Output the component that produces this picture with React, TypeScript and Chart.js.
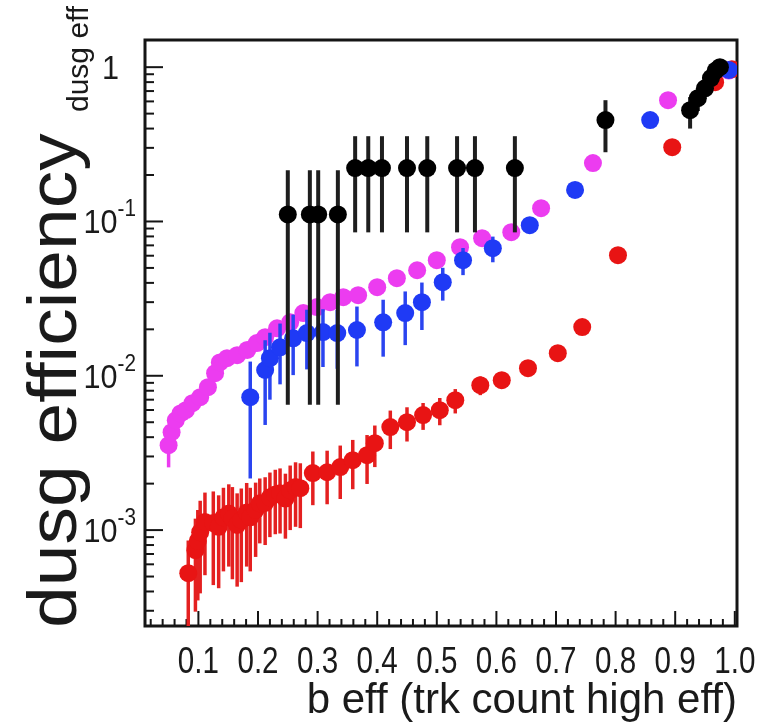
import React, { useEffect, useRef } from "react";
import { Chart, registerables } from "chart.js";

Chart.register(...registerables);

// axis ranges
const xMin = 0.0104;
const xMax = 1.0037;
const yMin = 2.39e-4;
const yMax = 1.5;

// tick labels
const xTickLabels = ["0.1", "0.2", "0.3", "0.4", "0.5", "0.6", "0.7", "0.8", "0.9", "1.0"];
const yDecades = [-3, -2, -1, 0];

const xTitle = "b eff (trk count high eff)";
const yTitle = "dusg efficiency";
const yTag = "dusg eff";

// magenta series
const magentaX = [0.05, 0.055, 0.062, 0.07, 0.079, 0.09, 0.103, 0.116, 0.128, 0.136, 0.148, 0.165, 0.182, 0.198, 0.212, 0.232, 0.254, 0.276, 0.299, 0.321, 0.343, 0.368, 0.4, 0.433, 0.467, 0.5, 0.539, 0.576, 0.625, 0.675, 0.762, 0.888, 0.99];
const magentaY = [0.00355, 0.00431, 0.00515, 0.0057, 0.00598, 0.00664, 0.00726, 0.00843, 0.0104, 0.0122, 0.013, 0.0136, 0.0147, 0.0163, 0.0178, 0.0203, 0.0222, 0.0255, 0.0279, 0.03, 0.0323, 0.0333, 0.0375, 0.0429, 0.0483, 0.0561, 0.0681, 0.0779, 0.0853, 0.122, 0.239, 0.611, 0.95];
const magentaErr = [0.001, 0.0009, 0.0008, 0.0008, 0.0008, 0.0008, 0.0008, 0.0009, 0.001, 0.001, 0.001, 0.001, 0.001, 0.0011, 0.0011, 0.0012, 0.0012, 0.0013, 0.0013, 0.0013, 0.0013, 0.0013, 0.0014, 0.0015, 0.0016, 0.0018, 0.002, 0.0022, 0.0025, 0.004, 0.006, 0.01, 0.01];

// blue series
const blueX = [0.187, 0.212, 0.22, 0.237, 0.259, 0.282, 0.309, 0.333, 0.366, 0.41, 0.447, 0.475, 0.51, 0.544, 0.594, 0.656, 0.732, 0.858, 0.99];
const blueY = [0.00726, 0.0109, 0.013, 0.0153, 0.0175, 0.0189, 0.0192, 0.0189, 0.0198, 0.0222, 0.0255, 0.03, 0.0404, 0.0561, 0.0671, 0.0946, 0.16, 0.454, 0.96];
const blueErr = [0.0051, 0.0061, 0.006, 0.0065, 0.0074, 0.0079, 0.0078, 0.0078, 0.0083, 0.0089, 0.0097, 0.0102, 0.0097, 0.0112, 0.0127, 0.0095, 0.008, 0.012, 0.01];

// red series
const redX = [0.083, 0.095, 0.099, 0.103, 0.111, 0.125, 0.134, 0.142, 0.151, 0.157, 0.165, 0.172, 0.181, 0.187, 0.196, 0.203, 0.212, 0.22, 0.229, 0.237, 0.246, 0.254, 0.263, 0.271, 0.292, 0.316, 0.338, 0.359, 0.383, 0.396, 0.422, 0.45, 0.477, 0.505, 0.531, 0.573, 0.609, 0.653, 0.703, 0.744, 0.804, 0.895, 0.967, 0.995];
const redY = [0.000526, 0.000741, 0.00085, 0.000969, 0.00113, 0.00111, 0.00105, 0.00121, 0.00128, 0.00119, 0.00108, 0.00116, 0.0013, 0.00121, 0.00135, 0.00149, 0.0015, 0.00163, 0.0017, 0.00173, 0.0016, 0.00181, 0.0019, 0.00187, 0.00234, 0.00237, 0.00256, 0.00284, 0.00306, 0.00366, 0.00465, 0.005, 0.00556, 0.00598, 0.00695, 0.00869, 0.00936, 0.0112, 0.014, 0.0207, 0.0605, 0.303, 0.8, 0.97];
const redErr = [0.00033, 0.000445, 0.0005, 0.00058, 0.00062, 0.00067, 0.00063, 0.00067, 0.0007, 0.00071, 0.00065, 0.0007, 0.00072, 0.00067, 0.00068, 0.00067, 0.0007, 0.00073, 0.00076, 0.00078, 0.00072, 0.00081, 0.00085, 0.00084, 0.00089, 0.0009, 0.00097, 0.001, 0.00107, 0.0011, 0.0013, 0.00125, 0.0011, 0.0012, 0.00125, 0.0012, 0.0011, 0.0011, 0.0011, 0.0012, 0.002, 0.008, 0.02, 0.02];

// black series (asymmetric errors)
const blackX = [0.25, 0.287, 0.301, 0.334, 0.363, 0.385, 0.408, 0.45, 0.484, 0.534, 0.564, 0.631, 0.783, 0.925, 0.938, 0.95, 0.96, 0.968, 0.975];
const blackY = [0.111, 0.111, 0.111, 0.111, 0.222, 0.222, 0.222, 0.222, 0.222, 0.222, 0.222, 0.222, 0.454, 0.526, 0.63, 0.73, 0.85, 0.95, 1.0];
const blackLow = [0.0065, 0.0065, 0.0065, 0.0065, 0.085, 0.085, 0.085, 0.085, 0.085, 0.085, 0.085, 0.085, 0.281, 0.4, 0.52, 0.64, 0.77, 0.88, 0.95];
const blackHigh = [0.215, 0.215, 0.215, 0.215, 0.357, 0.357, 0.357, 0.357, 0.357, 0.357, 0.357, 0.357, 0.611, 0.64, 0.73, 0.81, 0.92, 1.0, 1.0];

const FONT = '"Liberation Sans", Arial, Helvetica, sans-serif';

function pts(xs: number[], ys: number[]) {
  return xs.map((x, i) => ({ x, y: ys[i] }));
}

function drawSqueezed(ctx: CanvasRenderingContext2D, text: string, x: number, y: number, size: number, sx: number, align: string) {
  ctx.save();
  ctx.font = `${size}px ${FONT}`;
  const w = ctx.measureText(text).width * sx;
  const left = align === "right" ? x - w : align === "center" ? x - w / 2 : x;
  ctx.translate(left, y);
  ctx.scale(sx, 1);
  ctx.textAlign = "left";
  ctx.textBaseline = "alphabetic";
  ctx.fillText(text, 0, 0);
  ctx.restore();
  return w;
}

const errorBarPlugin = {
  id: "errorBars",
  beforeDatasetDraw(chart: any, args: any) {
    const ds = chart.data.datasets[args.index];
    if (!ds.errLow) return;
    const { ctx, chartArea } = chart;
    const xs = chart.scales.x;
    const ys = chart.scales.y;
    ctx.save();
    ctx.beginPath();
    ctx.rect(chartArea.left, chartArea.top, chartArea.right - chartArea.left, chartArea.bottom - chartArea.top);
    ctx.clip();
    ctx.strokeStyle = ds.barColor;
    ctx.lineWidth = ds.barWidth;
    ds.data.forEach((p: any, i: number) => {
      const px = xs.getPixelForValue(p.x);
      const lo = Math.max(ds.errLow[i], 1e-6);
      const y1 = ys.getPixelForValue(lo);
      const y2 = ys.getPixelForValue(ds.errHigh[i]);
      ctx.beginPath();
      ctx.moveTo(px, y1);
      ctx.lineTo(px, y2);
      ctx.stroke();
    });
    ctx.restore();
  },
};

const axesPlugin = {
  id: "rootAxes",
  beforeDatasetsDraw(chart: any) {
    const { ctx, chartArea } = chart;
    const xs = chart.scales.x;
    const ys = chart.scales.y;
    const { left, right, top, bottom } = chartArea;
    ctx.save();
    ctx.strokeStyle = "#151515";
    ctx.lineWidth = 2;
    for (let d = -4; d <= 0; d++) {
      for (let m = 1; m <= 9; m++) {
        const v = m * Math.pow(10, d);
        if (v < yMin || v > yMax) continue;
        const py = ys.getPixelForValue(v);
        const len = m === 1 ? 18 : 9;
        ctx.beginPath();
        ctx.moveTo(left, py);
        ctx.lineTo(left + len, py);
        ctx.stroke();
      }
    }
    for (let i = 1; i <= 50; i++) {
      const v = i * 0.02;
      if (v < xMin || v > xMax + 1e-9) continue;
      const px = xs.getPixelForValue(v);
      const len = i % 5 === 0 ? 15 : 7;
      ctx.beginPath();
      ctx.moveTo(px, bottom);
      ctx.lineTo(px, bottom - len);
      ctx.stroke();
    }
    ctx.lineWidth = 3;
    ctx.strokeRect(left, top, right - left, bottom - top);
    ctx.restore();
  },
  afterDraw(chart: any) {
    const { ctx, chartArea } = chart;
    const xs = chart.scales.x;
    const ys = chart.scales.y;
    ctx.save();
    ctx.fillStyle = "#1a1a1a";
    xTickLabels.forEach((t) => {
      const px = xs.getPixelForValue(parseFloat(t));
      drawSqueezed(ctx, t, px, 673, 37, 0.8, "center");
    });
    yDecades.forEach((d) => {
      const py = ys.getPixelForValue(Math.pow(10, d));
      if (d === 0) {
        drawSqueezed(ctx, "1", 119, py + 12, 34, 0.9, "right");
      } else {
        const sup = String(d);
        ctx.font = `23px ${FONT}`;
        const sw = ctx.measureText(sup).width * 0.9;
        drawSqueezed(ctx, sup, 136, py - 5, 23, 0.9, "right");
        drawSqueezed(ctx, "10", 136 - sw, py + 12, 34, 0.9, "right");
      }
    });
    drawSqueezed(ctx, xTitle, chartArea.right, 713, 42, 1.0, "right");
    ctx.save();
    ctx.font = `75px ${FONT}`;
    ctx.translate(76, 628);
    ctx.rotate(-Math.PI / 2);
    ctx.scale(1, 0.92);
    ctx.textAlign = "left";
    ctx.fillText(yTitle, 0, 0);
    ctx.restore();
    ctx.save();
    ctx.font = `30px ${FONT}`;
    ctx.translate(88, 112);
    ctx.rotate(-Math.PI / 2);
    ctx.textAlign = "left";
    ctx.fillText(yTag, 0, 0);
    ctx.restore();
    ctx.restore();
  },
};

function makeSet(label: string, xs: number[], ys: number[], lo: number[], hi: number[], color: string, barColor: string, barWidth: number) {
  return {
    label,
    data: pts(xs, ys),
    backgroundColor: color,
    borderColor: color,
    pointRadius: 9,
    pointHoverRadius: 9,
    pointBorderWidth: 0,
    borderWidth: 0,
    showLine: false,
    clip: 0,
    errLow: lo,
    errHigh: hi,
    barColor,
    barWidth,
  };
}

export default function App() {
  const ref = useRef<HTMLCanvasElement | null>(null);
  useEffect(() => {
    if (!ref.current) return;
    const sym = (ys: number[], es: number[], sign: number) => ys.map((y, i) => y + sign * es[i]);
    const chart = new Chart(ref.current, {
      type: "scatter",
      data: {
        datasets: [
          makeSet("black", blackX, blackY, blackLow, blackHigh, "#000000", "#1e1e1e", 4) as any,
          makeSet("blue", blueX, blueY, sym(blueY, blueErr, -1), sym(blueY, blueErr, 1), "#1f3af5", "#2a44f0", 3.5) as any,
          makeSet("red", redX, redY, sym(redY, redErr, -1), sym(redY, redErr, 1), "#e81414", "#e42020", 3.5) as any,
          makeSet("magenta", magentaX, magentaY, sym(magentaY, magentaErr, -1), sym(magentaY, magentaErr, 1), "#ec3cf0", "#ec3cf0", 3.5) as any,
        ],
      },
      options: {
        animation: false,
        responsive: false,
        maintainAspectRatio: false,
        events: [],
        layout: { padding: { left: 145, right: 26, top: 40, bottom: 98 } },
        plugins: { legend: { display: false }, tooltip: { enabled: false } },
        scales: {
          x: { type: "linear", min: xMin, max: xMax, display: false },
          y: { type: "logarithmic", min: yMin, max: yMax, display: false },
        },
      },
      plugins: [axesPlugin, errorBarPlugin],
    });
    return () => chart.destroy();
  }, []);
  return (
    <div style={{ position: "absolute", left: 0, top: 0, width: 763, height: 724, background: "#fff" }}>
      <canvas ref={ref} width={763} height={724} style={{ display: "block", width: 763, height: 724 }} />
    </div>
  );
}
